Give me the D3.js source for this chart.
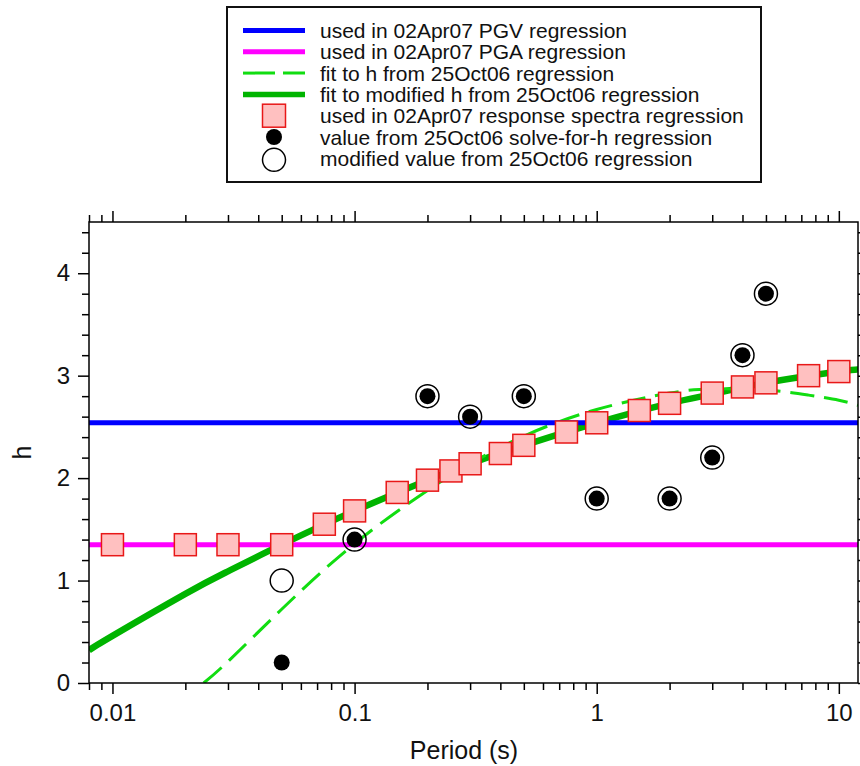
<!DOCTYPE html>
<html>
<head>
<meta charset="utf-8">
<script src="https://cdn.jsdelivr.net/npm/d3@7"></script>
<style>
  html, body { margin: 0; padding: 0; background: #fff; }
  svg { display: block; font-family: "Liberation Sans", Arial, Helvetica, sans-serif; }
</style>
</head>
<body>
<svg id="chart" width="860" height="766"></svg>
<script>
// h used by regressions, as a function of period
const pgvH = 2.54;
const pgaH = 1.35;

const spectraPeriods = [0.01, 0.02, 0.03, 0.05, 0.075, 0.1, 0.15, 0.2, 0.25, 0.3, 0.4, 0.5, 0.75, 1, 1.5, 2, 3, 4, 5, 7.5, 10];
const spectraH       = [1.35, 1.35, 1.35, 1.35, 1.55, 1.68, 1.86, 1.98, 2.07, 2.14, 2.24, 2.32, 2.45, 2.54, 2.66, 2.73, 2.83, 2.89, 2.93, 3.00, 3.04];

const solvePeriods = [0.05, 0.1, 0.2, 0.3, 0.5, 1, 2, 3, 4, 5];
const solveH       = [0.2, 1.4, 2.8, 2.6, 2.8, 1.8, 1.8, 2.2, 3.2, 3.8];
const modifiedH    = [1.0, 1.4, 2.8, 2.6, 2.8, 1.8, 1.8, 2.2, 3.2, 3.8];

const fitPeriods = [0.0238, 0.03, 0.05, 0.1, 0.2, 0.3, 0.5, 1, 2, 3, 5, 7.5, 10, 12];
const fitH       = [0, 0.21, 0.72, 1.36, 1.88, 2.14, 2.41, 2.67, 2.83, 2.87, 2.86, 2.81, 2.76, 2.71];

const modFitPeriods = [0.008, 0.01, 0.02, 0.03, 0.05, 0.1, 0.2, 0.3, 0.5, 1, 2, 3, 5, 10, 12];
const modFitH       = [0.32, 0.46, 0.87, 1.09, 1.35, 1.68, 1.98, 2.14, 2.32, 2.54, 2.73, 2.82, 2.93, 3.04, 3.06];

const xTickLabels = [0.01, 0.1, 1, 10];
const yTickLabels = [0, 1, 2, 3, 4];

const legendLabels = [
  "used in 02Apr07 PGV regression",
  "used in 02Apr07 PGA regression",
  "fit to h from 25Oct06 regression",
  "fit to modified h from 25Oct06 regression",
  "used in 02Apr07 response spectra regression",
  "value from 25Oct06 solve-for-h regression",
  "modified value from 25Oct06 regression"
];

const colors = {
  pgv: "#0000ff",
  pga: "#ff00ff",
  fit: "#11dd11",
  modFit: "#00b400",
  sqFill: "#ffc0c0",
  sqStroke: "#e81818"
};

const svg = d3.select("#chart");
const plot = { left: 89, right: 858, top: 222, bottom: 683 };

const x = d3.scaleLog().domain([0.008, 12]).range([plot.left, plot.right]);
const y = d3.scaleLinear().domain([0, 4.5]).range([plot.bottom, plot.top]);

svg.append("defs").append("clipPath").attr("id", "plotClip")
  .append("rect")
  .attr("x", plot.left).attr("y", plot.top)
  .attr("width", plot.right - plot.left).attr("height", plot.bottom - plot.top);

// ---- axes ----
const xMinor = x.ticks().filter(v => !xTickLabels.some(m => Math.abs(m - v) / m < 1e-6));
const yAll = d3.range(0, 4.5 + 1e-9, 0.2).map(v => +v.toFixed(1));
const yMinor = yAll.filter(v => !yTickLabels.includes(v));

function styleAxis(g) {
  g.select(".domain").remove();
  g.selectAll(".tick line").attr("stroke", "#000").attr("stroke-width", 1.5);
}

// bottom
svg.append("g").attr("transform", `translate(0,${plot.bottom})`)
  .call(d3.axisBottom(x).tickValues(xMinor).tickSize(7).tickFormat(""))
  .call(styleAxis);
svg.append("g").attr("transform", `translate(0,${plot.bottom})`)
  .call(d3.axisBottom(x).tickValues(xTickLabels).tickSize(11).tickPadding(10)
    .tickFormat(d => d3.format("~g")(d)))
  .call(styleAxis)
  .call(g => g.selectAll("text").attr("font-size", 24).attr("fill", "#111")
    .attr("font-family", "Liberation Sans, Arial, sans-serif"));

// top
svg.append("g").attr("transform", `translate(0,${plot.top})`)
  .call(d3.axisTop(x).tickValues(xMinor).tickSize(7).tickFormat(""))
  .call(styleAxis);
svg.append("g").attr("transform", `translate(0,${plot.top})`)
  .call(d3.axisTop(x).tickValues(xTickLabels).tickSize(11).tickFormat(""))
  .call(styleAxis);

// left
svg.append("g").attr("transform", `translate(${plot.left},0)`)
  .call(d3.axisLeft(y).tickValues(yMinor).tickSize(7).tickFormat(""))
  .call(styleAxis);
svg.append("g").attr("transform", `translate(${plot.left},0)`)
  .call(d3.axisLeft(y).tickValues(yTickLabels).tickSize(11).tickPadding(8).tickFormat(d3.format("d")))
  .call(styleAxis)
  .call(g => g.selectAll("text").attr("font-size", 24).attr("fill", "#111")
    .attr("font-family", "Liberation Sans, Arial, sans-serif"));

// right
svg.append("g").attr("transform", `translate(${plot.right},0)`)
  .call(d3.axisRight(y).tickValues(yMinor).tickSize(7).tickFormat(""))
  .call(styleAxis);
svg.append("g").attr("transform", `translate(${plot.right},0)`)
  .call(d3.axisRight(y).tickValues(yTickLabels).tickSize(11).tickFormat(""))
  .call(styleAxis);

// axis titles
svg.append("text")
  .attr("x", 464).attr("y", 759)
  .attr("text-anchor", "middle").attr("font-size", 25).attr("fill", "#111")
  .text("Period (s)");
svg.append("text")
  .attr("transform", `translate(31,${(plot.top + plot.bottom) / 2}) rotate(-90)`)
  .attr("text-anchor", "middle").attr("font-size", 25).attr("fill", "#111")
  .text("h");

// ---- marks ----
const layer = svg.append("g").attr("clip-path", "url(#plotClip)");

const curve = d3.line()
  .x(d => x(d[0])).y(d => y(d[1]))
  .curve(d3.curveNatural);

layer.append("path")
  .datum(d3.zip(modFitPeriods, modFitH))
  .attr("d", curve)
  .attr("fill", "none").attr("stroke", colors.modFit).attr("stroke-width", 6.5);

layer.append("path")
  .datum(d3.zip(fitPeriods, fitH))
  .attr("d", curve)
  .attr("fill", "none").attr("stroke", colors.fit).attr("stroke-width", 3)
  .attr("stroke-dasharray", "24,10");

layer.append("line")
  .attr("x1", x(0.008)).attr("x2", x(12))
  .attr("y1", y(pgvH)).attr("y2", y(pgvH))
  .attr("stroke", colors.pgv).attr("stroke-width", 5);

layer.append("line")
  .attr("x1", x(0.008)).attr("x2", x(12))
  .attr("y1", y(pgaH)).attr("y2", y(pgaH))
  .attr("stroke", colors.pga).attr("stroke-width", 5);

const sq = 22;
svg.append("g").selectAll("rect")
  .data(d3.zip(spectraPeriods, spectraH))
  .join("rect")
  .attr("x", d => x(d[0]) - sq / 2).attr("y", d => y(d[1]) - sq / 2)
  .attr("width", sq).attr("height", sq)
  .attr("fill", colors.sqFill).attr("stroke", colors.sqStroke).attr("stroke-width", 1.5);

svg.append("g").selectAll("circle")
  .data(d3.zip(solvePeriods, modifiedH))
  .join("circle")
  .attr("cx", d => x(d[0])).attr("cy", d => y(d[1])).attr("r", 11.5)
  .attr("fill", "none").attr("stroke", "#000").attr("stroke-width", 1.5);

svg.append("g").selectAll("circle")
  .data(d3.zip(solvePeriods, solveH))
  .join("circle")
  .attr("cx", d => x(d[0])).attr("cy", d => y(d[1])).attr("r", 8)
  .attr("fill", "#000");

// frame
svg.append("rect")
  .attr("x", plot.left).attr("y", plot.top)
  .attr("width", plot.right - plot.left).attr("height", plot.bottom - plot.top)
  .attr("fill", "none").attr("stroke", "#000").attr("stroke-width", 1.5);

// ---- legend ----
const lg = svg.append("g");
lg.append("rect")
  .attr("x", 227).attr("y", 7).attr("width", 534).attr("height", 175)
  .attr("fill", "#fff").attr("stroke", "#111").attr("stroke-width", 2);

const rowY = i => 30.5 + i * 21.3;
const swX0 = 243, swX1 = 305, swC = 274;

lg.append("line").attr("x1", swX0).attr("x2", swX1).attr("y1", rowY(0)).attr("y2", rowY(0))
  .attr("stroke", colors.pgv).attr("stroke-width", 5);
lg.append("line").attr("x1", swX0).attr("x2", swX1).attr("y1", rowY(1)).attr("y2", rowY(1))
  .attr("stroke", colors.pga).attr("stroke-width", 5);
lg.append("line").attr("x1", swX0).attr("x2", swX1).attr("y1", rowY(2)).attr("y2", rowY(2))
  .attr("stroke", colors.fit).attr("stroke-width", 3).attr("stroke-dasharray", "32,8");
lg.append("line").attr("x1", swX0).attr("x2", swX1).attr("y1", rowY(3)).attr("y2", rowY(3))
  .attr("stroke", colors.modFit).attr("stroke-width", 5.5);
lg.append("rect").attr("x", swC - 11.5).attr("y", rowY(4) - 11.5).attr("width", 23).attr("height", 23)
  .attr("fill", colors.sqFill).attr("stroke", colors.sqStroke).attr("stroke-width", 1.5);
lg.append("circle").attr("cx", swC).attr("cy", rowY(5)).attr("r", 8).attr("fill", "#000");
lg.append("circle").attr("cx", swC).attr("cy", rowY(6) + 1.5).attr("r", 11.5)
  .attr("fill", "#fff").attr("stroke", "#000").attr("stroke-width", 1.5);

lg.selectAll("text.lbl")
  .data(legendLabels)
  .join("text")
  .attr("class", "lbl")
  .attr("x", 320).attr("y", (d, i) => rowY(i) + 7.5)
  .attr("font-size", 21).attr("fill", "#111")
  .text(d => d);
</script>
</body>
</html>
